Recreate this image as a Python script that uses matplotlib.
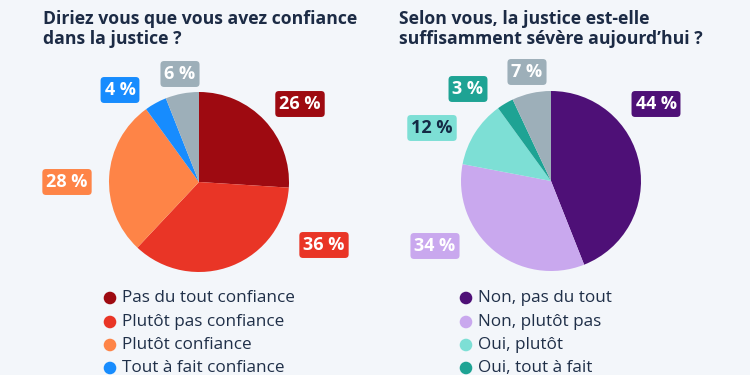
import matplotlib.pyplot as plt
from matplotlib.patches import Circle

plt.rcParams['font.family'] = ['Open Sans', 'DejaVu Sans']

# data
titles = ["Diriez vous que vous avez confiance\ndans la justice ?",
          "Selon vous, la justice est-elle\nsuffisamment sévère aujourd\u2019hui ?"]
labels_left = ["Pas du tout confiance", "Plutôt pas confiance", "Plutôt confiance",
               "Tout à fait confiance", "Ne sait pas"]
values_left = [26, 36, 28, 4, 6]
labels_right = ["Non, pas du tout", "Non, plutôt pas", "Oui, plutôt",
                "Oui, tout à fait", "Ne sait pas"]
values_right = [44, 34, 12, 3, 7]

colors_left = ["#9e0a11", "#e93526", "#fe8447", "#178cfe", "#9dafb9"]
colors_right = ["#4e1077", "#c9a8ee", "#7ddfd5", "#1ea394", "#9dafb9"]
text_left = ["white"] * 5
text_right = ["white", "white", "#142a45", "white", "white"]

# layout (pixels, top-left origin)
W, H = 750, 375
BG = "#f3f6fa"
NAVY = "#1c2b45"
pies = [
    dict(title=titles[0], vals=values_left, labs=labels_left, cols=colors_left,
         tcols=text_left, cx=199, cy=182, tx=43, lx=110,
         lab_pos=[(300, 104), (324, 245), (67, 182), (120, 90), (180, 74)]),
    dict(title=titles[1], vals=values_right, labs=labels_right, cols=colors_right,
         tcols=text_right, cx=551, cy=181, tx=399, lx=466,
         lab_pos=[(656, 104), (435, 246), (432, 128), (468, 89), (527, 72)]),
]
R = 90
legend_y = [298, 322, 345, 368]

fig = plt.figure(figsize=(W / 100, H / 100), dpi=100, facecolor=BG)
ax = fig.add_axes([0, 0, 1, 1])
ax.set_xlim(0, W)
ax.set_ylim(0, H)
ax.set_aspect('equal')
ax.axis('off')

for p in pies:
    ax.text(p['tx'], H - 10, p['title'], fontsize=12.7, fontweight='bold',
            color=NAVY, va='top', ha='left', linespacing=1.12)
    ax.pie(p['vals'], colors=p['cols'], startangle=90, counterclock=False,
           center=(p['cx'], H - p['cy']), radius=R, frame=True,
           wedgeprops=dict(linewidth=0))
    for v, (x, y), c, tc in zip(p['vals'], p['lab_pos'], p['cols'], p['tcols']):
        ax.text(x, H - y, f"{v} %", fontsize=13, fontweight='bold', color=tc,
                ha='center', va='center',
                bbox=dict(boxstyle='round,pad=0.22,rounding_size=0.2',
                          fc=c, ec='none'))
    for lab, c, y in zip(p['labs'][:4], p['cols'][:4], legend_y):
        ax.add_patch(Circle((p['lx'], H - y), 6.3, color=c, lw=0))
        ax.text(p['lx'] + 12, H - y, lab, fontsize=12.3, color="#1f2f48",
                ha='left', va='center')

ax.set_xlim(0, W)
ax.set_ylim(0, H)
ax.axis('off')
fig.savefig("out.png", dpi=100, facecolor=BG)
